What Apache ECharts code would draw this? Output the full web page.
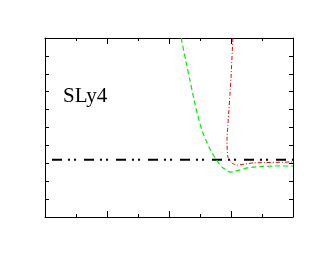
<!DOCTYPE html>
<html><head><meta charset="utf-8">
<script src="https://cdn.jsdelivr.net/npm/echarts@6/dist/echarts.min.js"></script>
<style>html,body{margin:0;padding:0;background:#fff}#c{width:330px;height:255px}</style>
</head><body><div id="c"></div>
<script>
var greenX = [4.39, 4.55, 4.68, 4.81, 4.94, 5.06, 5.19, 5.32, 5.45, 5.58, 5.71, 5.84, 5.97, 6.10, 6.29, 6.61, 7.0, 7.42, 8.0];
var greenY = [10.0, 8.66, 7.6, 6.54, 5.59, 4.86, 4.3, 3.8, 3.41, 3.07, 2.79, 2.63, 2.51, 2.54, 2.63, 2.77, 2.82, 2.85, 2.85];
var redX = [6.06, 6.0, 5.9, 5.87, 5.9, 6.03, 6.19, 6.71, 8.0];
var redY = [10.0, 7.77, 5.14, 4.3, 3.35, 3.02, 2.9, 3.02, 3.07];
var flatX = [0, 8];
var flatY = [3.2, 3.2];
var label = 'SLy4';

function pairs(xs, ys){ return xs.map(function(x,i){return [x, ys[i]];}); }

var chart = echarts.init(document.getElementById('c'), null, {renderer:'canvas'});
var axX = function(pos){ return {
  type:'value', min:0, max:8, interval:2, position:pos,
  axisLine:{show:true, onZero:false, lineStyle:{color:'#000', width:1}},
  axisTick:{show:true, inside:true, length:6, lineStyle:{color:'#000'}},
  minorTick:{show:true, splitNumber:2, length:3, lineStyle:{color:'#000'}},
  axisLabel:{show:false}, splitLine:{show:false}
};};
var axY = function(pos){ return {
  type:'value', min:0, max:10, interval:1, position:pos,
  axisLine:{show:true, onZero:false, lineStyle:{color:'#000', width:1}},
  axisTick:{show:true, inside:true, length:4, lineStyle:{color:'#000'}},
  axisLabel:{show:false}, splitLine:{show:false}
};};
chart.setOption({
  animation:false,
  grid:{left:45, top:38, right:37, bottom:38, containLabel:false},
  xAxis:[axX('bottom'), axX('top')],
  yAxis:[axY('left'), axY('right')],
  graphic:[{type:'text', left:63, top:86, style:{text:label, font:'21px "Liberation Serif"', fill:'#000'}}],
  series:[
    {type:'line', data:pairs(flatX, flatY), showSymbol:false, symbol:'none',
     lineStyle:{color:'#000', width:2, type:[10,6,2,4,2,8], dashOffset:25}},
    {type:'line', data:pairs(greenX, greenY), showSymbol:false, symbol:'none', smooth:0.3,
     lineStyle:{color:'#00ee00', width:1.2, type:[5,3]}},
    {type:'line', data:pairs(redX, redY), showSymbol:false, symbol:'none', smooth:0.2,
     lineStyle:{color:'#ee0000', width:1, type:[4,2,1,2]}}
  ]
});
</script></body></html>
